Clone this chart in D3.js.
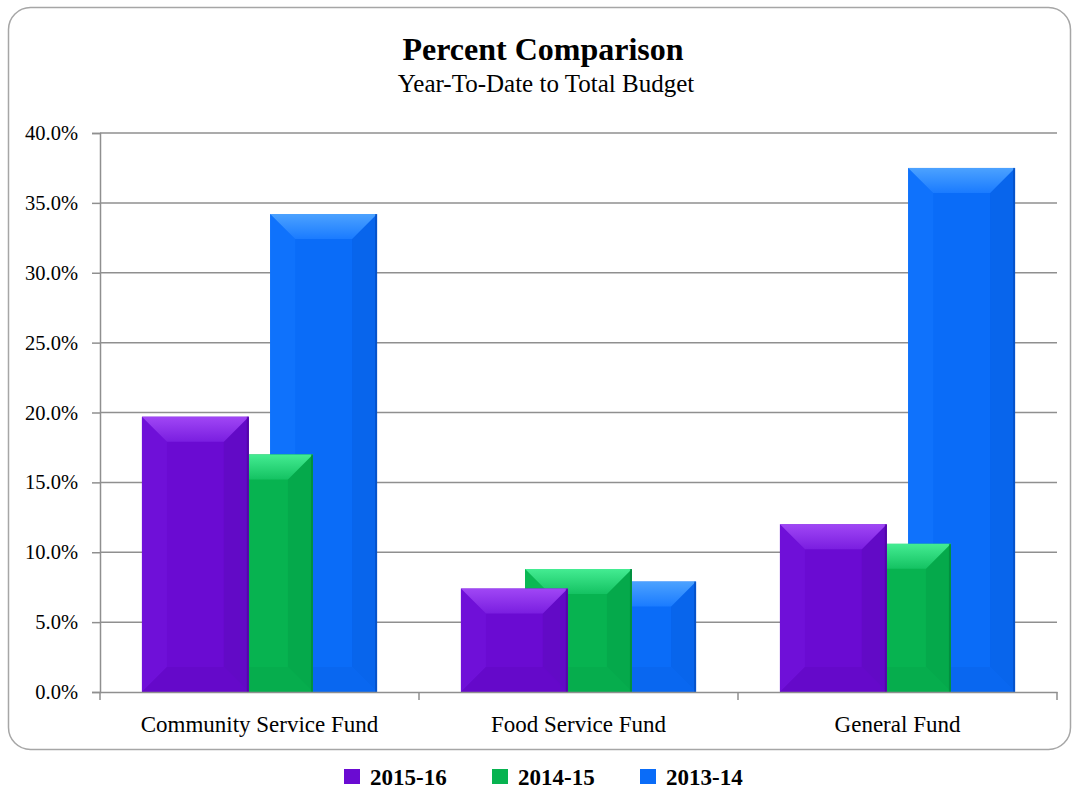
<!DOCTYPE html>
<html>
<head>
<meta charset="utf-8">
<script src="https://cdn.jsdelivr.net/npm/d3@7"></script>
<style>
  body { margin: 0; background: #fff; }
  text { font-family: "Liberation Serif", "Times New Roman", serif; fill: #000; }
</style>
</head>
<body>
<div id="chart"></div>
<script>
const categories = ["Community Service Fund", "Food Service Fund", "General Fund"]
const seriesNames = ["2015-16", "2014-15", "2013-14"]
const values2015 = [19.7, 7.4, 12.0]
const values2014 = [17.0, 8.8, 10.6]
const values2013 = [34.2, 7.9, 37.5]
const yTicks = [0, 5, 10, 15, 20, 25, 30, 35, 40]

const seriesValues = [values2015, values2014, values2013]

const COLORS = [
  { main: "#6a0bd2", top: "#a047f5", topEnd: "#7a1ee0", left: "#6f10d8", right: "#620ac6", bottom: "#6509ca", edge: "#4e049e" },
  { main: "#07b350", top: "#44ec92", topEnd: "#14c262", left: "#0bb854", right: "#05a94b", bottom: "#06ad4d", edge: "#02853a" },
  { main: "#0a6cf8", top: "#4ca2ff", topEnd: "#1a7bff", left: "#0f72fc", right: "#0865ec", bottom: "#0967f0", edge: "#044cbd" }
]

const W = 1073, H = 790
const MARGIN = { TOP: 133, BOTTOM: 98, LEFT: 100, RIGHT: 16 }

const svg = d3.select("#chart")
  .append("svg")
  .attr("width", W)
  .attr("height", H)

// frame
svg.append("rect")
  .attr("x", 8.5).attr("y", 7.5)
  .attr("width", 1062).attr("height", 742)
  .attr("rx", 22).attr("ry", 22)
  .attr("fill", "#fff")
  .attr("stroke", "#a6a6a6")
  .attr("stroke-width", 1.5)

svg.append("text")
  .attr("x", 543).attr("y", 60)
  .attr("text-anchor", "middle")
  .attr("font-size", 32)
  .attr("font-weight", "bold")
  .text("Percent Comparison")

svg.append("text")
  .attr("x", 546).attr("y", 92)
  .attr("text-anchor", "middle")
  .attr("font-size", 25)
  .text("Year-To-Date to Total Budget")

const x0 = d3.scaleBand()
  .domain(categories)
  .range([MARGIN.LEFT, W - MARGIN.RIGHT])
  .paddingInner(0).paddingOuter(0)

const y = d3.scaleLinear()
  .domain([0, 40])
  .range([H - MARGIN.BOTTOM, MARGIN.TOP])

// gridlines
svg.append("g")
  .selectAll("line")
  .data(yTicks.filter(d => d > 0))
  .join("line")
  .attr("x1", MARGIN.LEFT).attr("x2", W - MARGIN.RIGHT)
  .attr("y1", d => y(d)).attr("y2", d => y(d))
  .attr("stroke", "#8f8f8f")
  .attr("stroke-width", 1.5)

// bars
const bw = x0.bandwidth() * 0.335
const step = bw * 0.6
const groupW = bw + step * (seriesNames.length - 1)

const bars = []
seriesNames.forEach((s, i) => {
  categories.forEach((c, j) => {
    bars.push({ series: i, cat: c, value: seriesValues[i][j] })
  })
})
// draw back-to-front: last series first
bars.sort((a, b) => b.series - a.series)

const defs = svg.append("defs")
COLORS.forEach((col, i) => {
  const g = defs.append("linearGradient")
    .attr("id", "top" + i)
    .attr("x1", 0).attr("y1", 0).attr("x2", 0).attr("y2", 1)
  g.append("stop").attr("offset", "0%").attr("stop-color", col.top)
  g.append("stop").attr("offset", "100%").attr("stop-color", col.topEnd)
})

const barG = svg.append("g")
bars.forEach(b => {
  const col = COLORS[b.series]
  const bx = x0(b.cat) + (x0.bandwidth() - groupW) / 2 + b.series * step
  const by = y(b.value)
  const bh = y(0) - by
  const d = Math.min(25, bh / 2, bw / 4)
  const g = barG.append("g")
  g.append("rect")
    .attr("x", bx).attr("y", by)
    .attr("width", bw).attr("height", bh)
    .attr("fill", col.main)
  const poly = (pts, fill) => g.append("polygon")
    .attr("points", pts.map(p => p.join(",")).join(" "))
    .attr("fill", fill)
  poly([[bx, by], [bx + d, by + d], [bx + d, by + bh - d], [bx, by + bh]], col.left)
  poly([[bx + bw, by], [bx + bw - d, by + d], [bx + bw - d, by + bh - d], [bx + bw, by + bh]], col.right)
  poly([[bx, by + bh], [bx + d, by + bh - d], [bx + bw - d, by + bh - d], [bx + bw, by + bh]], col.bottom)
  poly([[bx, by], [bx + bw, by], [bx + bw - d, by + d], [bx + d, by + d]], `url(#top${b.series})`)
  g.append("rect")
    .attr("x", bx + bw - 2).attr("y", by)
    .attr("width", 2).attr("height", bh)
    .attr("fill", col.edge)
    .attr("opacity", 0.7)
})

// y axis
const yAxisG = svg.append("g")
  .attr("transform", `translate(${MARGIN.LEFT},0)`)
  .call(d3.axisLeft(y).tickValues(yTicks).tickSize(8).tickPadding(14)
    .tickFormat(d => d3.format(".1f")(d) + "%"))
yAxisG.select(".domain").attr("stroke", "#8f8f8f").attr("stroke-width", 1.5)
yAxisG.selectAll(".tick line").attr("stroke", "#8f8f8f").attr("stroke-width", 1.5)
yAxisG.selectAll(".tick text")
  .attr("font-family", "Liberation Serif, serif")
  .attr("font-size", 20.5)
  .attr("fill", "#000")

// x axis
const xAxisG = svg.append("g")
  .attr("transform", `translate(0,${y(0)})`)
  .call(d3.axisBottom(x0).tickSize(0).tickPadding(24))
xAxisG.select(".domain").attr("stroke", "#8f8f8f").attr("stroke-width", 1.5)
xAxisG.selectAll(".tick text")
  .attr("font-family", "Liberation Serif, serif")
  .attr("font-size", 23)
  .attr("fill", "#000")
// category boundary ticks
xAxisG.append("g")
  .selectAll("line")
  .data(categories.map(c => x0(c)).concat([x0.range()[1]]))
  .join("line")
  .attr("x1", d => d).attr("x2", d => d)
  .attr("y1", 0).attr("y2", 8)
  .attr("stroke", "#8f8f8f")
  .attr("stroke-width", 1.5)

// legend
const legend = svg.append("g")
  .selectAll("g")
  .data(seriesNames)
  .join("g")
  .attr("transform", (d, i) => `translate(${344 + i * 148},769)`)
legend.append("rect")
  .attr("width", 16).attr("height", 15)
  .attr("fill", (d, i) => COLORS[i].main)
legend.append("text")
  .attr("x", 26).attr("y", 16)
  .attr("font-size", 23)
  .attr("font-weight", "bold")
  .text(d => d)
</script>
</body>
</html>
